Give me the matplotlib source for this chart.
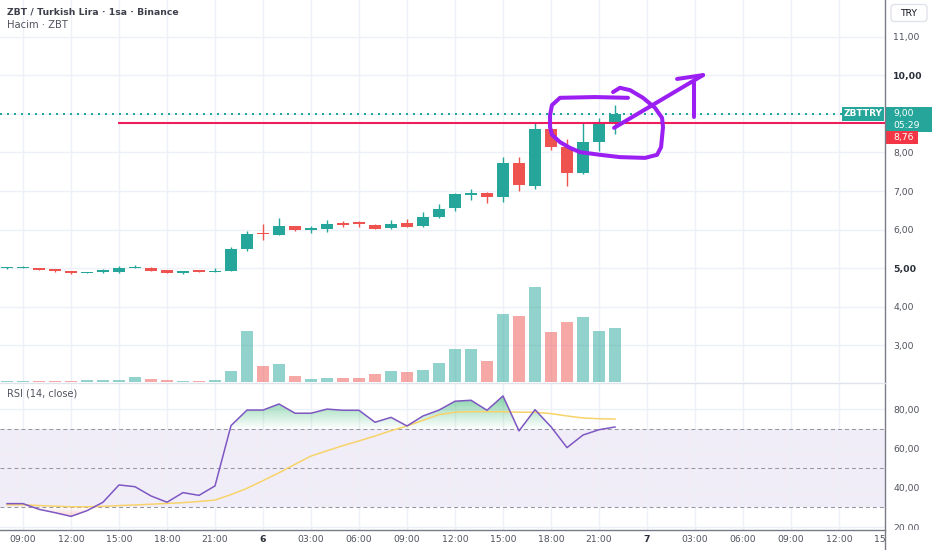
import matplotlib
matplotlib.use('Agg')
import matplotlib.pyplot as plt
import matplotlib.colors as mcolors
import numpy as np
from matplotlib.patches import Rectangle, FancyBboxPatch
from matplotlib.path import Path
from matplotlib.transforms import Bbox, IdentityTransform, blended_transform_factory

# ---------------- data (hourly candles, 08:00 day 5 -> 22:00 day 6) ----------------
opens  = [4.99, 4.99, 4.99, 4.97, 4.91, 4.87, 4.89, 4.90, 4.99, 5.01, 4.94, 4.86, 4.94, 4.90,
          4.93, 5.49, 5.90, 5.87, 6.08, 6.00, 6.01, 6.17, 6.16, 6.12, 6.04, 6.16, 6.08, 6.33,
          6.55, 6.89, 6.96, 6.85, 7.73, 7.13, 8.61, 8.14, 7.46, 8.28, 8.74]
highs  = [5.03, 5.04, 5.01, 4.98, 4.92, 4.90, 4.97, 5.04, 5.08, 5.02, 4.96, 4.93, 4.95, 4.99,
          5.55, 5.95, 6.13, 6.30, 6.09, 6.08, 6.24, 6.22, 6.22, 6.13, 6.25, 6.28, 6.45, 6.65,
          6.96, 7.05, 6.97, 7.89, 7.88, 8.79, 8.62, 8.34, 8.79, 8.90, 9.23]
lows   = [4.98, 4.99, 4.94, 4.90, 4.85, 4.86, 4.88, 4.88, 4.99, 4.92, 4.86, 4.85, 4.89, 4.89,
          4.92, 5.45, 5.73, 5.86, 5.96, 5.90, 5.94, 6.06, 6.06, 6.01, 6.01, 6.06, 6.07, 6.31,
          6.47, 6.76, 6.68, 6.71, 7.01, 7.06, 8.06, 7.14, 7.45, 8.05, 8.47]
closes = [5.00, 5.00, 4.95, 4.91, 4.86, 4.89, 4.94, 5.00, 5.00, 4.93, 4.87, 4.91, 4.90, 4.93,
          5.49, 5.875, 5.88, 6.08, 6.00, 6.01, 6.14, 6.12, 6.15, 6.02, 6.15, 6.07, 6.33, 6.53,
          6.91, 6.95, 6.85, 7.73, 7.16, 8.61, 8.14, 7.46, 8.27, 8.75, 9.00]
volumes = [3, 3, 3, 3, 3, 5, 5, 6, 14, 8, 5, 3, 3, 5, 32, 154, 47, 53, 19, 10, 12, 11, 12, 24,
           32, 30, 37, 56, 99, 99, 62, 203, 197, 285, 150, 181, 195, 152, 162]
rsi    = [31.9, 31.9, 29.0, 27.3, 25.4, 28.3, 32.6, 41.4, 40.5, 35.8, 32.6, 37.5, 36.1, 40.9,
          71.6, 79.5, 79.5, 82.6, 77.9, 77.9, 80.0, 79.4, 79.4, 73.3, 75.8, 71.4, 76.5, 79.5,
          84.0, 84.5, 79.4, 86.7, 68.9, 79.7, 71.0, 60.4, 66.8, 69.5, 70.9]
rsi_ma = [31.3, 31.3, 30.9, 30.6, 30.3, 30.3, 30.5, 30.9, 31.2, 31.6, 32.0, 32.4, 33.0, 33.7,
          36.5, 39.7, 43.6, 47.6, 51.9, 56.1, 58.8, 61.4, 63.8, 66.3, 69.0, 71.4, 74.3, 77.2,
          78.4, 78.7, 78.7, 78.7, 78.4, 78.4, 77.7, 76.5, 75.5, 75.1, 74.9]

time_labels = ['09:00', '12:00', '15:00', '18:00', '21:00', '6', '03:00', '06:00', '09:00',
               '12:00', '15:00', '18:00', '21:00', '7', '03:00', '06:00', '09:00', '12:00', '15:00']
first_label_index = 1     # candle index of the first time label (09:00)
label_step = 3            # hours between labels
price_ticks = [3, 4, 5, 6, 7, 8, 9, 10, 11]
rsi_ticks = [20, 40, 60, 80]
rsi_levels = [70, 50, 30]
hline_price = 8.76
hline_start = 6.95

# hand-drawn annotation (candle index, price)
loop_x = [38.81, 36.75, 34.56, 34.06, 33.94, 33.94, 34.06, 34.56, 35.19, 35.81, 37.06, 38.31,
          39.88, 40.63, 40.88, 41.0, 40.94, 40.5, 39.75, 38.94, 38.31, 37.88]
loop_y = [9.42, 9.44, 9.42, 9.23, 8.97, 8.66, 8.46, 8.27, 8.12, 8.01, 7.94, 7.88,
          7.86, 7.94, 8.14, 8.66, 8.90, 9.16, 9.42, 9.62, 9.68, 9.57]
arrow_x = [37.94, 43.5]
arrow_y = [8.64, 10.01]
head1_x = [41.88, 43.5]
head1_y = [9.91, 10.01]
head2_x = [42.94, 42.94]
head2_y = [9.83, 8.92]

# ---------------- style ----------------
UP = '#26a69a'
DOWN = '#ef5350'
GRID = '#edf1f7'
TXT = '#50535e'
W, H = 932, 550

plt.rcParams['font.family'] = ['DejaVu Sans']

fig = plt.figure(figsize=(W / 100, H / 100), dpi=100)
fig.patch.set_facecolor('white')


def rect(x0, y0, x1, y1):
    return [x0 / W, 1 - y1 / H, (x1 - x0) / W, (y1 - y0) / H]


XMIN, XMAX = -0.4375, 54.875
ax = fig.add_axes(rect(0, 0, 885, 382), label='price')
ax_vol = fig.add_axes(rect(0, 0, 885, 382), label='vol', sharex=ax)
ax_r = fig.add_axes(rect(0, 384, 885, 529.5), label='rsi', sharex=ax)
ax_vol.patch.set_alpha(0)

n = len(closes)
idx = np.arange(n)
tick_pos = [first_label_index + label_step * k for k in range(len(time_labels))]

for a in (ax, ax_vol, ax_r):
    for s in a.spines.values():
        s.set_visible(False)

# ---- price pane ----
ax.set_xlim(XMIN, XMAX)
ax.set_ylim(2.039, 11.961)
ax.set_xticks(tick_pos)
ax.set_yticks(price_ticks)
ax.grid(True, color=GRID, lw=1)
ax.set_axisbelow(True)
ax.tick_params(axis='x', bottom=False, labelbottom=False)
ax.yaxis.tick_right()
ax.set_yticklabels([f'{p:.2f}'.replace('.', ',') for p in price_ticks])
ax.tick_params(axis='y', length=0, pad=6, labelsize=6.7, labelcolor=TXT)
for t, p in zip(ax.get_yticklabels(), price_ticks):
    if p in (5, 10):
        t.set_fontweight('bold')
        t.set_color('#2a2e39')

for i in range(n):
    o, h, l, c = opens[i], highs[i], lows[i], closes[i]
    col = UP if c >= o else DOWN
    ax.vlines(i, l, h, color=col, lw=1, zorder=3)
    ax.bar(i, max(abs(c - o), 0.035), bottom=min(o, c), width=0.75, color=col, lw=0, zorder=4)

ax.axhline(closes[-1], color=UP, lw=1.44, dashes=(1, 2.5), zorder=2)
ax.hlines(hline_price, hline_start, XMAX, color='#ee1d5c', lw=1.5, zorder=5)

pc = '#9b1ff2'
kw = dict(color=pc, lw=2.9, solid_capstyle='round', solid_joinstyle='round', zorder=6)
ax.plot(loop_x, loop_y, **kw)
ax.plot(arrow_x, arrow_y, **kw)
ax.plot(head1_x, head1_y, **kw)
ax.plot(head2_x, head2_y, **kw)

# ---- volume overlay ----
ax_vol.set_ylim(0, 1146)
vcols = [UP if closes[i] >= opens[i] else DOWN for i in range(n)]
ax_vol.bar(idx, volumes, width=0.75, color=vcols, alpha=0.5, lw=0)
ax_vol.tick_params(left=False, labelleft=False, bottom=False, labelbottom=False)

# ---- RSI pane ----
ax_r.set_ylim(18.73, 92.77)
ax_r.axhspan(30, 70, color='#7e57c2', alpha=0.1, lw=0, zorder=0.5)
ax_r.set_xticks(tick_pos)
ax_r.set_yticks(rsi_ticks)
ax_r.grid(True, color=GRID, lw=1)
ax_r.set_axisbelow(True)
for lv in rsi_levels:
    ax_r.axhline(lv, color='#9598a1', lw=0.75, dashes=(3.8, 2.9), zorder=1)


def grad_fill(a, x, y, level, lim, color, amax, above=True):
    x = np.asarray(x, float)
    y = np.asarray(y, float)
    where = y >= level if above else y <= level
    poly = a.fill_between(x, y, level, where=where, interpolate=True,
                          facecolor='none', edgecolor='none')
    paths = poly.get_paths()
    if not paths:
        return
    path = Path.make_compound_path(*paths)
    rgb = mcolors.to_rgb(color)
    m = 256
    img = np.zeros((m, 1, 4))
    img[:, 0, :3] = rgb
    if above:
        img[:, 0, 3] = np.linspace(0, amax, m)
        ext = [XMIN, XMAX, level, lim]
    else:
        img[:, 0, 3] = np.linspace(amax, 0, m)
        ext = [XMIN, XMAX, lim, level]
    im = a.imshow(img, extent=ext, origin='lower', aspect='auto', zorder=1.5,
                  interpolation='bilinear')
    im.set_clip_path(path, a.transData)


grad_fill(ax_r, idx, rsi, 70, 92.77, '#2fb36b', 0.8, above=True)
grad_fill(ax_r, idx, rsi, 30, 18.73, '#ef5350', 0.6, above=False)
ax_r.plot(idx, rsi_ma, color='#f7d36a', lw=1.1, zorder=3)
ax_r.plot(idx, rsi, color='#7e57c2', lw=1.1, zorder=4)
ax_r.set_xlim(XMIN, XMAX)
ax_r.set_ylim(18.73, 92.77)

ax_r.yaxis.tick_right()
ax_r.set_yticklabels([f'{v:.2f}'.replace('.', ',') for v in rsi_ticks])
ax_r.tick_params(axis='y', length=0, pad=6, labelsize=6.7, labelcolor=TXT)
ax_r.tick_params(axis='x', length=0, labelbottom=False)
for t in ax_r.get_yticklabels():
    t.set_clip_on(True)
    t.set_clip_box(Bbox.from_extents(0, H - 529.5, W, H))

# time labels (drawn as text so the last one can be clipped at the price scale)
xlab_tr = blended_transform_factory(ax_r.transData, IdentityTransform())
for pos, lab in zip(tick_pos, time_labels):
    bold = lab in ('6', '7')
    t = ax_r.text(pos, H - 540, lab, transform=xlab_tr, ha='center', va='center',
                  fontsize=6.7, color='#2a2e39' if bold else TXT,
                  fontweight='bold' if bold else 'normal')
    t.set_clip_on(True)
    t.set_clip_box(Bbox.from_extents(0, 0, 885, H))

ax.set_xlim(XMIN, XMAX)

# ---- frame lines ----
ident = IdentityTransform()
fig.add_artist(plt.Line2D([885, 885], [0, H], color='#787b86', lw=1, transform=ident))
fig.add_artist(plt.Line2D([0, 885], [H - 529.5, H - 529.5], color='#787b86', lw=1, transform=ident))
fig.add_artist(plt.Line2D([0, 885], [H - 383, H - 383], color='#e0e3eb', lw=1, transform=ident))

# ---- price labels ----
yd = ax.transData.transform((0, closes[-1]))[1]
fig.add_artist(Rectangle((842, yd - 7), 42, 14, fc=UP, ec='none', transform=ident))
fig.text(863, yd, 'ZBTTRY', transform=ident, ha='center', va='center', color='white',
         fontsize=6.5, fontweight='bold')
fig.add_artist(Rectangle((886, yd - 18.5), 46, 25.5, fc=UP, ec='none', transform=ident))
fig.text(893, yd, f'{closes[-1]:.2f}'.replace('.', ','), transform=ident, ha='left',
         va='center', color='white', fontsize=6.7)
fig.text(893, yd - 12, '05:29', transform=ident, ha='left', va='center', color='white',
         fontsize=6.7)
fig.add_artist(Rectangle((886, yd - 30.5), 32, 13, fc='#f23645', ec='none', transform=ident))
fig.text(893, yd - 24, f'{hline_price:.2f}'.replace('.', ','), transform=ident, ha='left',
         va='center', color='white', fontsize=6.7)

# TRY box
fig.add_artist(FancyBboxPatch((891, H - 21.5), 36, 17, boxstyle='round,pad=0,rounding_size=3',
                              fc='white', ec='#e0e3eb', lw=1, transform=ident))
fig.text(909, H - 13, 'TRY', transform=ident, ha='center', va='center', color='#131722',
         fontsize=6.7)

# titles
fig.text(7, H - 12, 'ZBT / Turkish Lira · 1sa · Binance', transform=ident, ha='left',
         va='center', color='#3d404b', fontsize=6.7, fontweight='bold')
fig.text(7, H - 25, 'Hacim · ZBT', transform=ident, ha='left', va='center', color='#50535e',
         fontsize=7.2)
fig.text(7, H - 393, 'RSI (14, close)', transform=ident, ha='left', va='center',
         color='#50535e', fontsize=7.0)

fig.savefig('out.png', dpi=100, facecolor='white')
